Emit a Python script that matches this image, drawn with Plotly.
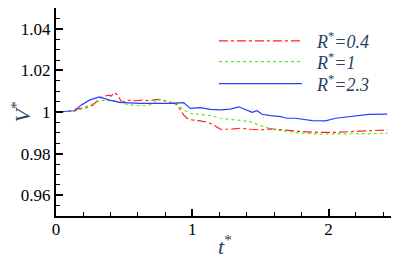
import plotly.graph_objects as go

t_red = [0.0, 0.135, 0.147, 0.184, 0.221, 0.270, 0.318, 0.355, 0.392, 0.404, 0.429, 0.453, 0.478, 0.490,
         0.515, 0.588, 0.637, 0.686, 0.735, 0.784, 0.833, 0.887, 0.912, 0.936, 0.961, 0.998, 1.059, 1.108,
         1.157, 1.206, 1.279, 1.353, 1.426, 1.500, 1.574, 1.647, 1.721, 1.806, 1.929, 2.051, 2.174, 2.296, 2.431]
v_red = [1.0000, 1.0005, 1.0014, 1.0017, 1.0021, 1.0033, 1.0065, 1.0076, 1.0081, 1.0076, 1.0094, 1.0081, 1.0052, 1.0046,
         1.0057, 1.0054, 1.0057, 1.0054, 1.0060, 1.0057, 1.0049, 1.0037, 1.0010, 0.9986, 0.9970, 0.9962, 0.9957, 0.9951,
         0.9938, 0.9917, 0.9917, 0.9922, 0.9917, 0.9914, 0.9919, 0.9914, 0.9910, 0.9906, 0.9902, 0.9902, 0.9906, 0.9910, 0.9914]

t_green = [0.0, 0.147, 0.196, 0.245, 0.282, 0.318, 0.343, 0.367, 0.417, 0.466, 0.490, 0.539, 0.588, 0.637, 0.686,
           0.711, 0.735, 0.747, 0.772, 0.809, 0.838, 0.887, 0.912, 0.936, 0.985, 1.059, 1.132, 1.206, 1.279, 1.353,
           1.426, 1.500, 1.574, 1.647, 1.721, 1.806, 1.929, 2.051, 2.174, 2.296, 2.431]
v_green = [1.0000, 1.0005, 1.0017, 1.0035, 1.0041, 1.0054, 1.0057, 1.0052, 1.0057, 1.0049, 1.0041, 1.0037, 1.0030, 1.0030, 1.0033,
           1.0041, 1.0057, 1.0065, 1.0057, 1.0052, 1.0046, 1.0041, 1.0025, 1.0010, 0.9994, 0.9989, 0.9983, 0.9970, 0.9965, 0.9962,
           0.9954, 0.9935, 0.9919, 0.9911, 0.9906, 0.9898, 0.9894, 0.9894, 0.9897, 0.9894, 0.9897]

t_blue = [0.0, 0.135, 0.184, 0.245, 0.318, 0.392, 0.466, 0.613, 0.735, 0.838, 0.936, 0.961, 0.985, 1.059, 1.132,
          1.206, 1.279, 1.341, 1.402, 1.439, 1.475, 1.512, 1.574, 1.647, 1.696, 1.757, 1.880, 1.978, 2.051, 2.174,
          2.296, 2.431]
v_blue = [1.0000, 1.0006, 1.0033, 1.0057, 1.0073, 1.0057, 1.0046, 1.0041, 1.0041, 1.0041, 1.0045, 1.0030, 1.0017, 1.0021, 1.0013,
          1.0010, 1.0014, 1.0025, 1.0010, 0.9998, 1.0006, 0.9989, 0.9983, 0.9978, 0.9970, 0.9970, 0.9959, 0.9957, 0.9970, 0.9978,
          0.9989, 0.9990]

labels = ["<i>R</i><sup>*</sup><i>=0.4</i>", "<i>R</i><sup>*</sup><i>=1</i>", "<i>R</i><sup>*</sup><i>=2.3</i>"]
colors = ["#ff2020", "#55ee22", "#2a3cff"]
dashes = ["dashdot", "dot", "solid"]

FONT = "Liberation Serif"

fig = go.Figure()
series = [(t_red, v_red), (t_green, v_green), (t_blue, v_blue)]
for (t, v), lab, c, d in zip(series, labels, colors, dashes):
    fig.add_trace(go.Scatter(x=t, y=v, mode="lines", name=lab,
                             line=dict(color=c, width=1.2, dash=d), showlegend=False))

# plot area in page pixels: x 56..394, y 7..216 (page has an 8px body margin)
leg_y = [0.842, 0.742, 0.636]
for lab, c, d, y in zip(labels, colors, dashes, leg_y):
    fig.add_shape(type="line", xref="paper", yref="paper", x0=0.482, x1=0.728, y0=y, y1=y,
                  line=dict(color=c, width=1.2, dash=d))
    fig.add_annotation(xref="paper", yref="paper", x=0.762, y=y, text=lab, showarrow=False,
                       xanchor="left", yanchor="middle", font=dict(family=FONT, size=18))

fig.add_annotation(xref="paper", yref="paper", x=0.5, y=-0.14, text="<i>t</i><sup>*</sup>", showarrow=False,
                   xanchor="center", yanchor="middle", font=dict(family=FONT, size=22))
fig.add_annotation(xref="paper", yref="paper", x=-0.105, y=0.5, text="<i>V</i><sup>*</sup>", showarrow=False,
                   xanchor="center", yanchor="middle", textangle=-90, font=dict(family=FONT, size=22))

fig.update_layout(
    width=391, height=248,
    margin=dict(l=48, r=5, t=0, b=40),
    paper_bgcolor="white", plot_bgcolor="white",
)
fig.update_xaxes(range=[0, 2.48], dtick=1, tick0=0, showgrid=False, zeroline=False, automargin=False,
                 showline=True, linewidth=2, linecolor="black", mirror=True,
                 ticks="inside", ticklen=7, tickwidth=1.5, tickcolor="black", ticklabelstandoff=-3,
                 minor=dict(dtick=0.2, ticks="inside", ticklen=4, tickcolor="black", tickwidth=1, showgrid=False),
                 tickfont=dict(family=FONT, size=17, color="black"))
fig.update_yaxes(range=[0.95, 1.05], dtick=0.02, tick0=0, showgrid=False, zeroline=False, automargin=False,
                 showline=True, linewidth=2, linecolor="black", mirror=True,
                 ticks="inside", ticklen=7, tickwidth=1.5, tickcolor="black",
                 minor=dict(dtick=0.005, ticks="inside", ticklen=4, tickcolor="black", tickwidth=1, showgrid=False),
                 tickfont=dict(family=FONT, size=17, color="black"))

fig.write_html("out.html")
